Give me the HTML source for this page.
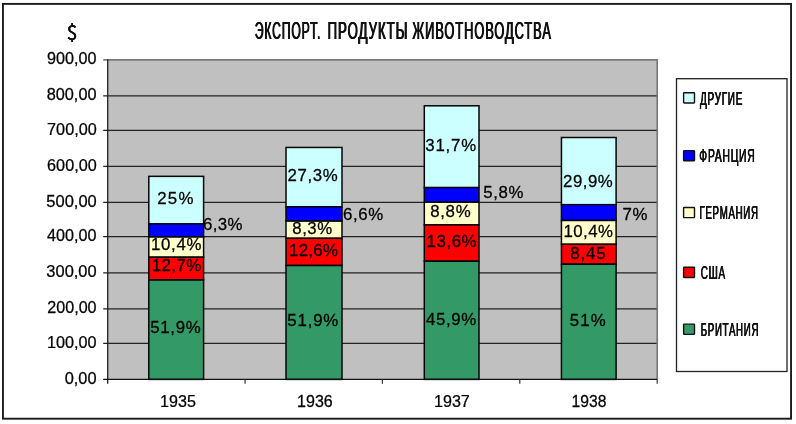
<!DOCTYPE html>
<html lang="ru"><head><meta charset="utf-8"><title>Экспорт. Продукты животноводства</title>
<style>
html,body{margin:0;padding:0;background:#fff;}
#wrap{position:relative;width:796px;height:424px;overflow:hidden;background:#fff;font-family:"Liberation Sans", sans-serif;}
svg{position:absolute;left:0;top:0;display:block;}
svg text{font-family:"Liberation Sans", sans-serif;fill:#000;stroke:#000;stroke-width:0.25px;}
.cn{position:absolute;white-space:nowrap;transform-origin:0 0;color:#111;line-height:1;font-family:"Liberation Sans", sans-serif;}
</style></head><body>
<div id="wrap">
<svg width="796" height="424" viewBox="0 0 796 424">
<rect x="2.95" y="3.9" width="788.1" height="414.8" fill="#fff" stroke="#1c1c1c" stroke-width="1.9"/>
<rect x="107.7" y="59.9" width="549.5" height="319.5" fill="#C0C0C0"/>
<path d="M107.7 59.9 H657.2 V379.4" fill="none" stroke="#7a7a7a" stroke-width="1.7"/>
<line x1="103.2" y1="343.40" x2="656.6" y2="343.40" stroke="#222" stroke-width="1.2"/>
<line x1="103.2" y1="308.90" x2="656.6" y2="308.90" stroke="#222" stroke-width="1.2"/>
<line x1="103.2" y1="272.90" x2="656.6" y2="272.90" stroke="#222" stroke-width="1.2"/>
<line x1="103.2" y1="236.70" x2="656.6" y2="236.70" stroke="#222" stroke-width="1.2"/>
<line x1="103.2" y1="202.40" x2="656.6" y2="202.40" stroke="#222" stroke-width="1.2"/>
<line x1="103.2" y1="166.40" x2="656.6" y2="166.40" stroke="#222" stroke-width="1.2"/>
<line x1="103.2" y1="130.40" x2="656.6" y2="130.40" stroke="#222" stroke-width="1.2"/>
<line x1="103.2" y1="95.90" x2="656.6" y2="95.90" stroke="#222" stroke-width="1.2"/>
<line x1="103.2" y1="59.90" x2="107.7" y2="59.90" stroke="#444" stroke-width="1.2"/>
<rect x="148.80" y="176.35" width="54.80" height="47.55" fill="#CCFFFF" stroke="#050505" stroke-width="1.5"/>
<rect x="148.80" y="223.90" width="54.80" height="13.10" fill="#0000FF" stroke="#050505" stroke-width="1.5"/>
<rect x="148.80" y="237.00" width="54.80" height="20.20" fill="#FFFFCC" stroke="#050505" stroke-width="1.5"/>
<rect x="148.80" y="257.20" width="54.80" height="22.80" fill="#FF0000" stroke="#050505" stroke-width="1.5"/>
<rect x="148.80" y="280.00" width="54.80" height="99.40" fill="#339966" stroke="#050505" stroke-width="1.5"/>
<rect x="286.00" y="147.45" width="56.00" height="59.35" fill="#CCFFFF" stroke="#050505" stroke-width="1.5"/>
<rect x="286.00" y="206.80" width="56.00" height="14.30" fill="#0000FF" stroke="#050505" stroke-width="1.5"/>
<rect x="286.00" y="221.10" width="56.00" height="17.20" fill="#FFFFCC" stroke="#050505" stroke-width="1.5"/>
<rect x="286.00" y="238.30" width="56.00" height="27.20" fill="#FF0000" stroke="#050505" stroke-width="1.5"/>
<rect x="286.00" y="265.50" width="56.00" height="113.90" fill="#339966" stroke="#050505" stroke-width="1.5"/>
<rect x="424.30" y="105.80" width="54.70" height="81.80" fill="#CCFFFF" stroke="#050505" stroke-width="1.5"/>
<rect x="424.30" y="187.60" width="54.70" height="14.60" fill="#0000FF" stroke="#050505" stroke-width="1.5"/>
<rect x="424.30" y="202.20" width="54.70" height="22.70" fill="#FFFFCC" stroke="#050505" stroke-width="1.5"/>
<rect x="424.30" y="224.90" width="54.70" height="36.30" fill="#FF0000" stroke="#050505" stroke-width="1.5"/>
<rect x="424.30" y="261.20" width="54.70" height="118.20" fill="#339966" stroke="#050505" stroke-width="1.5"/>
<rect x="561.45" y="137.50" width="54.65" height="67.20" fill="#CCFFFF" stroke="#050505" stroke-width="1.5"/>
<rect x="561.45" y="204.70" width="54.65" height="15.80" fill="#0000FF" stroke="#050505" stroke-width="1.5"/>
<rect x="561.45" y="220.50" width="54.65" height="23.80" fill="#FFFFCC" stroke="#050505" stroke-width="1.5"/>
<rect x="561.45" y="244.30" width="54.65" height="19.90" fill="#FF0000" stroke="#050505" stroke-width="1.5"/>
<rect x="561.45" y="264.20" width="54.65" height="115.20" fill="#339966" stroke="#050505" stroke-width="1.5"/>
<line x1="107.7" y1="59.30" x2="107.7" y2="383.80" stroke="#222" stroke-width="1.3"/>
<line x1="103.2" y1="379.40" x2="657.2" y2="379.40" stroke="#111" stroke-width="1.3"/>
<line x1="245.1" y1="379.40" x2="245.1" y2="383.80" stroke="#333" stroke-width="1.2"/>
<line x1="382.4" y1="379.40" x2="382.4" y2="383.80" stroke="#333" stroke-width="1.2"/>
<line x1="519.8" y1="379.40" x2="519.8" y2="383.80" stroke="#333" stroke-width="1.2"/>
<line x1="657.2" y1="379.40" x2="657.2" y2="383.80" stroke="#333" stroke-width="1.2"/>
<rect x="676.5" y="78.7" width="110.5" height="292.8" fill="#fff" stroke="#222" stroke-width="1.3"/>
<rect x="683.6" y="92.75" width="10.9" height="10.2" rx="0.6" fill="#CCFFFF" stroke="#111" stroke-width="1.4"/>
<rect x="683.6" y="150.60" width="10.9" height="10.2" rx="0.6" fill="#0000FF" stroke="#111" stroke-width="1.4"/>
<rect x="683.6" y="207.45" width="10.9" height="10.2" rx="0.6" fill="#FFFFCC" stroke="#111" stroke-width="1.4"/>
<rect x="683.6" y="267.25" width="10.9" height="10.2" rx="0.6" fill="#FF0000" stroke="#111" stroke-width="1.4"/>
<rect x="683.6" y="324.15" width="10.9" height="10.2" rx="0.6" fill="#339966" stroke="#111" stroke-width="1.4"/>
<text id="t0" transform="translate(157.31 204.10) scale(1.0400 1)" font-size="16.2" letter-spacing="1.14">25%</text>
<text id="t1" transform="translate(203.01 230.00) scale(1.0400 1)" font-size="16.2" letter-spacing="0.32">6,3%</text>
<text id="t2" transform="translate(150.95 250.19) scale(1.0400 1)" font-size="16.2" letter-spacing="0.66">10,4%</text>
<text id="t3" transform="translate(151.79 271.14) scale(1.0400 1)" font-size="16.2" letter-spacing="0.40">12,7%</text>
<text id="t4" transform="translate(150.27 332.60) scale(1.0400 1)" font-size="16.2" letter-spacing="0.64">51,9%</text>
<text id="t5" transform="translate(287.51 181.10) scale(1.0400 1)" font-size="16.2" letter-spacing="0.61">27,3%</text>
<text id="t6" transform="translate(343.01 219.80) scale(1.0400 1)" font-size="16.2" letter-spacing="0.57">6,6%</text>
<text id="t7" transform="translate(292.37 233.90) scale(1.0400 1)" font-size="16.2" letter-spacing="0.46">8,3%</text>
<text id="t8" transform="translate(288.99 255.74) scale(1.0400 1)" font-size="16.2" letter-spacing="0.29">12,6%</text>
<text id="t9" transform="translate(287.35 326.12) scale(1.0400 1)" font-size="16.2" letter-spacing="0.76">51,9%</text>
<text id="t10" transform="translate(425.35 150.74) scale(1.0400 1)" font-size="16.2" letter-spacing="0.73">31,7%</text>
<text id="t11" transform="translate(483.15 197.83) scale(1.0400 1)" font-size="16.2" letter-spacing="0.66">5,8%</text>
<text id="t12" transform="translate(430.19 217.12) scale(1.0400 1)" font-size="16.2" letter-spacing="0.66">8,8%</text>
<text id="t13" transform="translate(426.55 246.50) scale(1.0400 1)" font-size="16.2" letter-spacing="0.55">13,6%</text>
<text id="t14" transform="translate(426.04 324.80) scale(1.0400 1)" font-size="16.2" letter-spacing="0.60">45,9%</text>
<text id="t15" transform="translate(563.01 186.70) scale(1.0400 1)" font-size="16.2" letter-spacing="0.49">29,9%</text>
<text id="t16" transform="translate(622.61 219.70) scale(1.0400 1)" font-size="16.2" letter-spacing="0.62">7%</text>
<text id="t17" transform="translate(563.55 236.60) scale(1.0400 1)" font-size="16.2" letter-spacing="0.40">10,4%</text>
<text id="t18" transform="translate(570.21 258.74) scale(1.0400 1)" font-size="16.2" letter-spacing="0.81">8,45</text>
<text id="t19" transform="translate(569.71 325.88) scale(1.0400 1)" font-size="16.2" letter-spacing="1.07">51%</text>
<text id="t20" transform="translate(64.68 383.69) scale(1.0240 1)" font-size="16.0">0,00</text>
<text id="t21" transform="translate(46.97 347.69) scale(1.0134 1)" font-size="16.0">100,00</text>
<text id="t22" transform="translate(47.27 313.27) scale(1.0085 1)" font-size="16.0">200,00</text>
<text id="t23" transform="translate(46.35 276.94) scale(1.0274 1)" font-size="16.0">300,00</text>
<text id="t24" transform="translate(47.12 240.96) scale(1.0104 1)" font-size="16.0">400,00</text>
<text id="t25" transform="translate(46.33 206.59) scale(1.0303 1)" font-size="16.0">500,00</text>
<text id="t26" transform="translate(47.11 170.83) scale(1.0131 1)" font-size="16.0">600,00</text>
<text id="t27" transform="translate(47.11 134.87) scale(1.0131 1)" font-size="16.0">700,00</text>
<text id="t28" transform="translate(46.67 100.14) scale(1.0197 1)" font-size="16.0">800,00</text>
<text id="t29" transform="translate(46.98 63.80) scale(1.0120 1)" font-size="16.0">900,00</text>
<text id="t30" transform="translate(160.09 406.70) scale(1.0075 1)" font-size="16.0">1935</text>
<text id="t31" transform="translate(297.04 406.73) scale(1.0040 1)" font-size="16.0">1936</text>
<text id="t32" transform="translate(433.99 406.70) scale(1.0075 1)" font-size="16.0">1937</text>
<text id="t33" transform="translate(571.52 406.70) scale(0.9810 1)" font-size="16.0">1938</text>
</svg>
<div class="cn" id="t34" style="left:254px;top:19px;font-size:23.69px;letter-spacing:1.80px;transform:translate(0.82px,0.97px) scaleX(0.5093) rotate(0.02deg);text-shadow:0.75px 0 0 #111,-0.75px 0 0 #111;">ЭКСПОРТ.</div>
<div class="cn" id="t35" style="left:327px;top:19px;font-size:23.69px;letter-spacing:1.80px;transform:translate(0.55px,0.88px) scaleX(0.5572) rotate(0.02deg);text-shadow:0.75px 0 0 #111,-0.75px 0 0 #111;">ПРОДУКТЫ</div>
<div class="cn" id="t36" style="left:412px;top:19px;font-size:23.69px;letter-spacing:1.80px;transform:translate(0.41px,0.55px) scaleX(0.5401) rotate(0.02deg);text-shadow:0.75px 0 0 #111,-0.75px 0 0 #111;">ЖИВОТНОВОДСТВА</div>
<div class="cn" id="t37" style="left:66px;top:22px;font-size:20.13px;letter-spacing:0.00px;transform:translate(0.79px,0.17px) scaleX(0.9503) rotate(0.02deg);text-shadow:0.30px 0 0 #111,-0.30px 0 0 #111;font-family:'Noto Sans CJK SC','Liberation Sans',sans-serif;">$</div>
<div class="cn" id="t38" style="left:700px;top:90px;font-size:17.73px;letter-spacing:1.30px;transform:translate(0.00px,0.81px) scaleX(0.5621) rotate(0.02deg);text-shadow:0.50px 0 0 #111,-0.50px 0 0 #111;">ДРУГИЕ</div>
<div class="cn" id="t39" style="left:699px;top:147px;font-size:17.59px;letter-spacing:1.30px;transform:translate(0.33px,0.82px) scaleX(0.5860) rotate(0.02deg);text-shadow:0.50px 0 0 #111,-0.50px 0 0 #111;">ФРАНЦИЯ</div>
<div class="cn" id="t40" style="left:699px;top:204px;font-size:17.88px;letter-spacing:1.30px;transform:translate(0.45px,0.67px) scaleX(0.5433) rotate(0.02deg);text-shadow:0.50px 0 0 #111,-0.50px 0 0 #111;">ГЕРМАНИЯ</div>
<div class="cn" id="t41" style="left:700px;top:264px;font-size:17.73px;letter-spacing:1.30px;transform:translate(0.75px,0.51px) scaleX(0.5601) rotate(0.02deg);text-shadow:0.50px 0 0 #111,-0.50px 0 0 #111;">США</div>
<div class="cn" id="t42" style="left:700px;top:321px;font-size:17.73px;letter-spacing:1.30px;transform:translate(0.70px,0.75px) scaleX(0.5468) rotate(0.02deg);text-shadow:0.50px 0 0 #111,-0.50px 0 0 #111;">БРИТАНИЯ</div>
</div></body></html>
